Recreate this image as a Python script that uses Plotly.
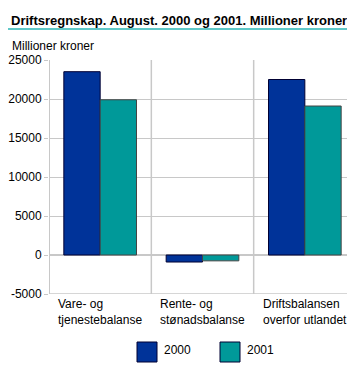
import plotly.graph_objects as go

categories = ["Vare- og<br>tjenestebalanse", "Rente- og<br>stønadsbalanse", "Driftsbalansen<br>overfor utlandet"]
series_names = ["2000", "2001"]
values_2000 = [23500, -900, 22500]
values_2001 = [19900, -750, 19100]
tick_vals = [-5000, 0, 5000, 10000, 15000, 20000, 25000]
tick_text = ["-5000", "0", "5000", "10000", "15000", "20000", "25000"]
colors = ["#003399", "#009999"]

W, H = 355, 366
L, R, T, B = 41, 348, 52, 286

def px(x):
    return x / W

def py(y):
    return (H - y) / H

FONT = "Liberation Sans"
fig = go.Figure()
for name, vals, col, lc in zip(series_names, [values_2000, values_2001], colors, ["#000033", "#444444"]):
    fig.add_trace(go.Bar(x=list(range(len(categories))), y=vals, name=name,
                         marker=dict(color=col, line=dict(color=lc, width=1)),
                         showlegend=False))

annotations = []
for i, c in enumerate(categories):
    annotations.append(dict(x=i, y=py(287), xref="x", yref="paper", text=c, showarrow=False,
                            xanchor="center", yanchor="top", align="left",
                            font=dict(family=FONT, size=12, color="#000")))
annotations.append(dict(x=px(1), y=py(3), xref="paper", yref="paper", xanchor="left", yanchor="top",
                        text="<b>Driftsregnskap. August. 2000 og 2001. Millioner kroner</b>",
                        showarrow=False, font=dict(family=FONT, size=13, color="#000")))
annotations.append(dict(x=px(2), y=py(29), xref="paper", yref="paper", xanchor="left", yanchor="top",
                        text="Millioner kroner", showarrow=False,
                        font=dict(family=FONT, size=12, color="#000")))

shapes = [
    dict(type="rect", xref="paper", yref="paper", x0=0, x1=1, y0=py(22), y1=py(20),
         fillcolor="#5fc8c8", line=dict(width=0), layer="above"),
    dict(type="rect", xref="paper", yref="paper", x0=0, x1=1, y0=0, y1=py(363),
         fillcolor="#5fc8c8", line=dict(width=0), layer="above"),
]
leg_x = [129, 212]
for name, col, lx in zip(series_names, colors, leg_x):
    shapes.append(dict(type="rect", xref="paper", yref="paper", x0=px(lx), x1=px(lx + 20),
                       y0=py(354), y1=py(334), fillcolor=col, line=dict(color="#000033", width=1)))
    annotations.append(dict(x=px(lx + 25), y=py(342), xref="paper", yref="paper", xanchor="left",
                            yanchor="middle", text=name, showarrow=False,
                            font=dict(family=FONT, size=12, color="#000")))

fig.update_layout(
    width=W, height=H,
    margin=dict(l=0, r=0, t=0, b=0, pad=0, autoexpand=False),
    paper_bgcolor="white", plot_bgcolor="white",
    barmode="group", bargap=0.29, bargroupgap=0,
    font=dict(family=FONT, size=12, color="#000"),
    xaxis=dict(domain=[px(L), px(R)], range=[-0.5, 2.5], tickvals=[0, 1, 2], ticktext=["", "", ""],
               showgrid=False, showline=False, zeroline=False, fixedrange=True, automargin=False),
    yaxis=dict(domain=[py(B), py(T)], range=[-5000, 25000], tickvals=tick_vals, ticktext=tick_text,
               showgrid=True, gridcolor="#c8c8c8", gridwidth=1, zeroline=True, zerolinecolor="#c8c8c8",
               showline=False, ticks="outside", ticklen=4, tickcolor="#c8c8c8",
               tickfont=dict(family=FONT, size=12, color="#000"), ticklabelstandoff=0,
               automargin=False),
    annotations=annotations, shapes=shapes,
)
for xb in [-0.5, 0.5, 1.5, 2.5]:
    fig.add_shape(type="line", xref="x", yref="y domain", x0=xb, x1=xb, y0=0, y1=1,
                  line=dict(color="#c8c8c8", width=2 if xb == -0.5 else 1.5), layer="below")
fig.add_shape(type="line", xref="x domain", yref="y", x0=0, x1=1, y0=-5000, y1=-5000,
              line=dict(color="#c8c8c8", width=1.5), layer="below")

fig.write_html("out.html", config={"displayModeBar": False})
